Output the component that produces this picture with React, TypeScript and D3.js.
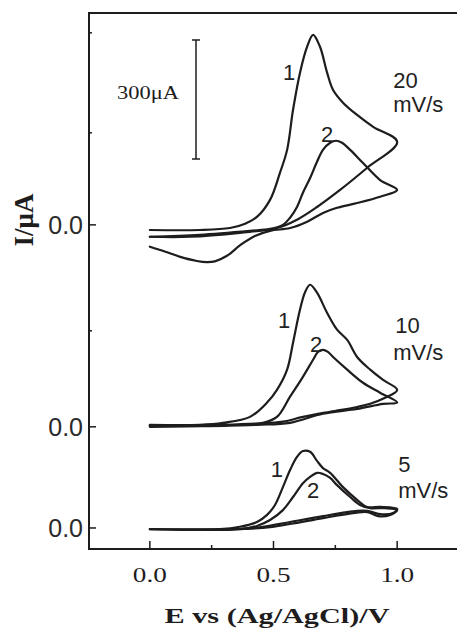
import React from 'react';
import * as d3 from 'd3';

// --- values: E in V, I in µA (relative to each panel's own 0.0) ---
const panelOffsets = [0, 255, 764]; // 5, 10, 20 mV/s stacked shifts in µA
const yMinorTicks = [497, 996, 1248];
const xMajorTicks = [0, 0.5, 1.0];
const xMinorTicks = [0.25, 0.75];
const scaleBar = [930, 1230]; // 300 µA

const cv20Cycle1 = [
  [0, -13], [0.202, -13], [0.324, -8], [0.385, 3], [0.433, 20], [0.486, 63], [0.526, 131], [0.555, 189],
  [0.579, 290], [0.607, 383], [0.636, 449], [0.66, 479], [0.688, 449], [0.717, 383], [0.741, 340],
  [0.781, 308], [0.838, 277], [0.903, 247], [1.0, 209],
  [0.879, 144], [0.769, 88], [0.676, 45], [0.595, 13], [0.514, -8], [0.364, -20], [0.162, -30], [0, -30],
];
const cv20Cycle2 = [
  [0, -30], [0.202, -25], [0.405, -15], [0.486, -10], [0.538, 0], [0.567, 18], [0.595, 45], [0.619, 81],
  [0.648, 118], [0.676, 159], [0.7, 189], [0.729, 207], [0.753, 212], [0.777, 207], [0.81, 189],
  [0.862, 156], [0.931, 113], [1.0, 88],
  [0.931, 71], [0.838, 55], [0.757, 43], [0.7, 30], [0.636, 8], [0.567, -8], [0.486, -15], [0.425, -28],
  [0.368, -50], [0.312, -78], [0.263, -92], [0.231, -94], [0.19, -91], [0.12, -80], [0.06, -67], [0, -55],
];
const cv10Cycle1 = [
  [0, 5], [0.202, 5], [0.296, 10], [0.405, 25], [0.474, 61], [0.514, 93], [0.555, 144], [0.579, 212],
  [0.607, 295], [0.628, 340], [0.648, 358], [0.676, 338], [0.717, 287], [0.757, 245], [0.798, 219],
  [0.838, 176], [0.891, 144], [0.943, 118], [1.0, 93],
  [0.951, 73], [0.891, 58], [0.838, 50], [0.729, 38], [0.619, 25], [0.538, 13], [0.433, 8], [0.296, 5], [0, 3],
];
const cv10Cycle2 = [
  [0, 3], [0.324, 3], [0.457, 10], [0.514, 25], [0.567, 76], [0.619, 126], [0.66, 169], [0.68, 189],
  [0.7, 194], [0.72, 189], [0.741, 176], [0.798, 144], [0.862, 111], [0.931, 86], [1.0, 61],
  [0.943, 58], [0.838, 45], [0.7, 33], [0.567, 10], [0.433, 5], [0, 0],
];
const cv5Cycle1 = [
  [0, -3], [0.283, -3], [0.364, 3], [0.433, 15], [0.474, 33], [0.506, 58], [0.538, 103], [0.567, 146],
  [0.595, 179], [0.619, 194], [0.648, 192], [0.676, 169], [0.7, 151], [0.729, 139], [0.781, 103],
  [0.838, 71], [0.879, 53], [0.931, 53], [1.0, 48],
  [0.984, 38], [0.931, 35], [0.879, 43], [0.838, 43], [0.7, 30], [0.567, 15], [0.457, 3], [0.364, -3], [0, -3],
];
const cv5Cycle2 = [
  [0, -3], [0.364, -3], [0.433, 5], [0.486, 20], [0.538, 45], [0.579, 78], [0.619, 113], [0.648, 129],
  [0.676, 139], [0.7, 136], [0.729, 126], [0.757, 108], [0.81, 78], [0.85, 58], [0.891, 50], [0.951, 50],
  [1.0, 45],
  [0.972, 33], [0.923, 30], [0.879, 40], [0.83, 38], [0.7, 25], [0.567, 10], [0.457, 0], [0, -3],
];

// annotation anchors [E, absolute µA, text]
const cycleLabels = [
  [0.563, 1129, '1'], [0.717, 973, '2'],
  [0.543, 504, '1'], [0.672, 444, '2'],
  [0.514, 129, '1'], [0.66, 76, '2'],
];
const rateLabels = [
  [0.984, 1109, '20'], [0.984, 1049, 'mV/s'],
  [0.992, 492, '10'], [0.984, 424, 'mV/s'],
  [1.004, 141, '5'], [1.004, 76, 'mV/s'],
];

const W = 457, H = 631;
const INK = '#1e1c1d';

export default function App() {
  const x = d3.scaleLinear().domain([-0.25, 1.25]).range([88, 459]);
  const y = d3.scaleLinear().domain([-53, 1298]).range([549, 13]);

  const curves = [
    { off: panelOffsets[0], pts: cv5Cycle1 }, { off: panelOffsets[0], pts: cv5Cycle2 },
    { off: panelOffsets[1], pts: cv10Cycle1 }, { off: panelOffsets[1], pts: cv10Cycle2 },
    { off: panelOffsets[2], pts: cv20Cycle1 }, { off: panelOffsets[2], pts: cv20Cycle2 },
  ];
  const axLeft = x(-0.25) + 1;
  const axBottom = y(-53);
  const axTop = y(1298);

  return (
    <svg width={W} height={H} style={{ position: 'absolute', left: 0, top: 0, background: '#fff' }}>
      {/* frame */}
      <g stroke={INK} strokeWidth={2} fill="none">
        <line x1={axLeft} x2={W} y1={axTop} y2={axTop} />
        <line x1={axLeft} x2={W} y1={axBottom} y2={axBottom} />
        <line x1={axLeft} x2={axLeft} y1={axTop - 1} y2={axBottom + 1} />
      </g>
      {/* x ticks */}
      <g stroke={INK} strokeWidth={1.5}>
        {xMajorTicks.map(t => <line key={'M' + t} x1={x(t)} x2={x(t)} y1={axBottom} y2={axBottom - 8} />)}
        {xMinorTicks.map(t => <line key={'m' + t} x1={x(t)} x2={x(t)} y1={axBottom} y2={axBottom - 4} />)}
      </g>
      <g fontFamily="'Liberation Serif', 'Times New Roman', serif" fontSize={22} fill={INK} textAnchor="middle">
        {xMajorTicks.map(t => (
          <text key={t} x={x(t)} y={582} textLength={34} lengthAdjust="spacingAndGlyphs">{t.toFixed(1)}</text>
        ))}
      </g>
      {/* y ticks */}
      <g stroke={INK} strokeWidth={1.5}>
        {panelOffsets.map(t => <line key={'M' + t} x1={axLeft} x2={axLeft + 7} y1={y(t)} y2={y(t)} />)}
        {yMinorTicks.map(t => <line key={'m' + t} x1={axLeft} x2={axLeft + 3} y1={y(t)} y2={y(t)} />)}
      </g>
      <g fontFamily="'Liberation Sans', Arial, sans-serif" fontSize={25} fill="#2a2a2a" textAnchor="end">
        {panelOffsets.map(t => <text key={t} x={83} y={y(t) + 9}>0.0</text>)}
      </g>
      {/* axis titles */}
      <text x={277} y={623} textAnchor="middle" fontFamily="'Liberation Serif', 'Times New Roman', serif"
        fontWeight="bold" fontSize={20} fill={INK} textLength={225} lengthAdjust="spacingAndGlyphs">
        E vs (Ag/AgCl)/V
      </text>
      <text transform="translate(33,220) rotate(-90)" textAnchor="middle"
        fontFamily="'Liberation Serif', 'Times New Roman', serif" fontWeight="bold" fontSize={27} fill={INK}>
        I/μA
      </text>
      {/* scale bar */}
      <g stroke={INK} strokeWidth={1.5}>
        <line x1={196} x2={196} y1={y(scaleBar[0])} y2={y(scaleBar[1])} />
        <line x1={192} x2={200} y1={y(scaleBar[0])} y2={y(scaleBar[0])} />
        <line x1={192} x2={200} y1={y(scaleBar[1])} y2={y(scaleBar[1])} />
      </g>
      <text x={117} y={99} fontFamily="'Liberation Serif', 'Times New Roman', serif" fontSize={19} fill={INK}
        textLength={62} lengthAdjust="spacingAndGlyphs">300μA</text>
      {/* voltammograms */}
      <g fill="none" stroke={INK} strokeWidth={2.2} strokeLinejoin="round" strokeLinecap="round">
        {curves.map((c, i) => {
          const line = d3.line<number[]>()
            .x(d => x(d[0]))
            .y(d => y(d[1] + c.off))
            .curve(d3.curveCatmullRom.alpha(0.5));
          return <path key={i} d={line(c.pts) || ''} />;
        })}
      </g>
      {/* labels */}
      <g fontFamily="'Liberation Sans', Arial, sans-serif" fontSize={22} fill="#222">
        {cycleLabels.map((l, i) => (
          <text key={'c' + i} x={x(l[0] as number)} y={y(l[1] as number)} textAnchor="middle">{l[2]}</text>
        ))}
        {rateLabels.map((l, i) => (
          <text key={'r' + i} x={x(l[0] as number)} y={y(l[1] as number)}>{l[2]}</text>
        ))}
      </g>
    </svg>
  );
}
